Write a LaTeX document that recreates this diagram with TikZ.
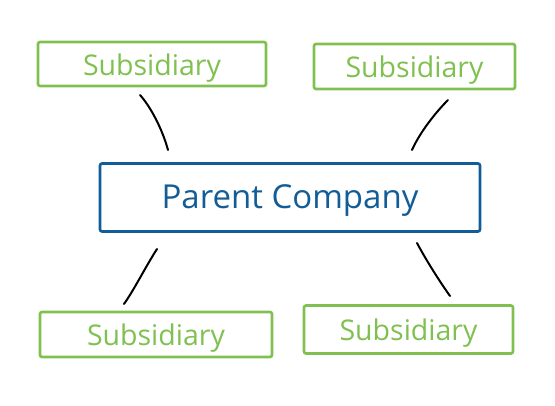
\documentclass[tikz,border=0pt]{standalone}
\usepackage{fontspec}
\setmainfont{Open Sans}
\definecolor{subgreen}{RGB}{128,192,80}
\definecolor{parblue}{RGB}{18,92,152}
\newcommand{\lowerby}[2]{\raisebox{0pt}[\dimexpr\height+#1\relax]{#2}}
\begin{document}
\begin{tikzpicture}[x=1pt,y=-1pt,
  subbox/.style={draw=subgreen,line width=2.6pt,rounded corners=2pt,text=subgreen,
    font=\fontsize{28.5}{30}\selectfont,inner sep=0pt},
  parbox/.style={draw=parblue,line width=2.6pt,rounded corners=2pt,text=parblue,
    font=\fontsize{33}{36}\selectfont,inner sep=0pt},
  link/.style={draw=black,line width=2pt,line cap=round}]
\useasboundingbox (0,0) rectangle (555,406);
\node[subbox,minimum width=228pt,minimum height=44pt] (tl) at (152,64) {\lowerby{8pt}{Subsidiary}};
\node[subbox,minimum width=201pt,minimum height=45pt] (tr) at (414.5,66.5) {\lowerby{8pt}{Subsidiary}};
\node[parbox,minimum width=380pt,minimum height=68pt] (pc) at (290,197.5) {\lowerby{6pt}{Parent Company}};
\node[subbox,minimum width=232pt,minimum height=45pt] (bl) at (156,334.5) {\lowerby{8pt}{Subsidiary}};
\node[subbox,minimum width=209pt,minimum height=48pt] (br) at (408.5,329.5) {\lowerby{8pt}{Subsidiary}};
\coordinate (tl1) at (140,95); \coordinate (tl2) at (168,150);
\coordinate (tr1) at (448,100); \coordinate (tr2) at (412,150);
\coordinate (bl1) at (157,249); \coordinate (bl2) at (124,304);
\coordinate (br1) at (417,243); \coordinate (br2) at (450,296);
\draw[link] (tl1) .. controls (150,106) and (162,128) .. (tl2);
\draw[link] (tr1) .. controls (436,112) and (420,132) .. (tr2);
\draw[link] (bl1) .. controls (146,266) and (134,290) .. (bl2);
\draw[link] (br1) .. controls (426,260) and (440,282) .. (br2);
\end{tikzpicture}
\end{document}
